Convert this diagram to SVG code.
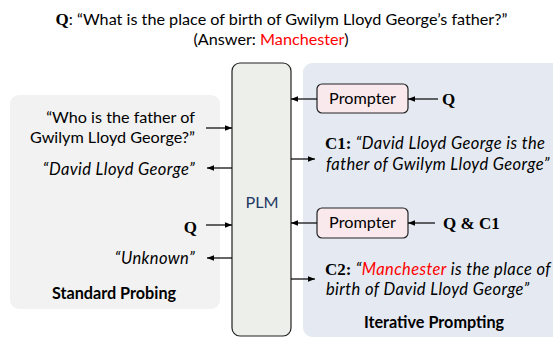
<svg xmlns="http://www.w3.org/2000/svg" width="553" height="338" viewBox="0 0 553 338">
<style>
.s{font-family:Lato,"Liberation Sans",sans-serif;font-size:16.2px;fill:#000}
.i{font-style:italic;font-size:16.5px;letter-spacing:0.4px}
.b{font-weight:bold}
.q{font-family:"Liberation Serif",serif;font-weight:bold;font-size:17px;letter-spacing:0}
.ln{stroke:#000;stroke-width:1.2;fill:none}
.pr{fill:#f9e9ec;stroke:#222;stroke-width:1.2}
</style>
<defs>
<marker id="ah" viewBox="0 0 10 10" refX="10" refY="5" markerWidth="7" markerHeight="7" markerUnits="userSpaceOnUse" orient="auto">
<path d="M0,1 L10,5 L0,9 z" fill="#000"/>
</marker>
</defs>
<rect width="553" height="338" fill="#fff"/>
<g id="title">
<text class="s" x="281.5" y="25" text-anchor="middle"><tspan class="q">Q</tspan>: “What is the place of birth of Gwilym Lloyd George’s father?”</text>
<text class="s" x="271" y="45" text-anchor="middle">(Answer: <tspan fill="#ff0000">Manchester</tspan>)</text>
</g>
<g id="standard-probing">
<rect x="10" y="95" width="210" height="214" rx="9" fill="#f2f2f2"/>
<text class="s" x="195" y="123" text-anchor="end">“Who is the father of</text>
<text class="s" x="195" y="143" text-anchor="end">Gwilym Lloyd George?”</text>
<text class="s i" x="195" y="175" text-anchor="end">“David Lloyd George”</text>
<text class="q" x="197" y="233" text-anchor="end">Q</text>
<text class="s i" x="195" y="264" text-anchor="end">“Unknown”</text>
<text class="s b" x="114" y="299" text-anchor="middle">Standard Probing</text>
</g>
<g id="iterative-prompting">
<rect x="303" y="63" width="270" height="274" rx="9" fill="#e5eaf2"/>
<text class="s b" x="434" y="328" text-anchor="middle">Iterative Prompting</text>
</g>
<g id="plm">
<rect x="232" y="63" width="59" height="273" rx="8" fill="#edf0ea" stroke="#222" stroke-width="1.2"/>
<text class="s" x="262" y="208" text-anchor="middle" style="fill:#1f3864">PLM</text>
</g>
<g id="prompter1">
<rect class="pr" x="317" y="84" width="91" height="29" rx="5"/>
<text class="s" x="362.5" y="104" text-anchor="middle">Prompter</text>
</g>
<g id="q-input">
<text class="q" x="442" y="105">Q</text>
</g>
<g id="c1">
<text class="s i" x="325" y="149"><tspan class="q" style="font-style:normal">C1:</tspan> “David Lloyd George is the</text>
<text class="s i" x="326" y="170">father of Gwilym Lloyd George”</text>
</g>
<g id="prompter2">
<rect class="pr" x="317" y="208" width="91" height="30" rx="5"/>
<text class="s" x="362.5" y="228" text-anchor="middle">Prompter</text>
</g>
<g id="qc1-input">
<text class="q" x="443" y="229">Q &amp; C1</text>
</g>
<g id="c2">
<text class="s i" x="325" y="275"><tspan class="q" style="font-style:normal">C2:</tspan> “<tspan style="fill:#ff0000">Manchester</tspan> is the place of</text>
<text class="s i" x="326" y="295">birth of David Lloyd George”</text>
</g>
<g id="connectors">
<line class="ln" x1="206" y1="128" x2="232" y2="128" marker-end="url(#ah)"/>
<line class="ln" x1="232" y1="168" x2="207" y2="168" marker-end="url(#ah)"/>
<line class="ln" x1="206" y1="225" x2="232" y2="225" marker-end="url(#ah)"/>
<line class="ln" x1="232" y1="258" x2="207" y2="258" marker-end="url(#ah)"/>
<line class="ln" x1="317" y1="99" x2="291" y2="99" marker-end="url(#ah)"/>
<line class="ln" x1="438" y1="99" x2="408" y2="99" marker-end="url(#ah)"/>
<line class="ln" x1="291" y1="159" x2="315" y2="159" marker-end="url(#ah)"/>
<line class="ln" x1="317" y1="223" x2="291" y2="223" marker-end="url(#ah)"/>
<line class="ln" x1="435" y1="223" x2="408" y2="223" marker-end="url(#ah)"/>
<line class="ln" x1="291" y1="279" x2="315" y2="279" marker-end="url(#ah)"/>
</g>
</svg>
